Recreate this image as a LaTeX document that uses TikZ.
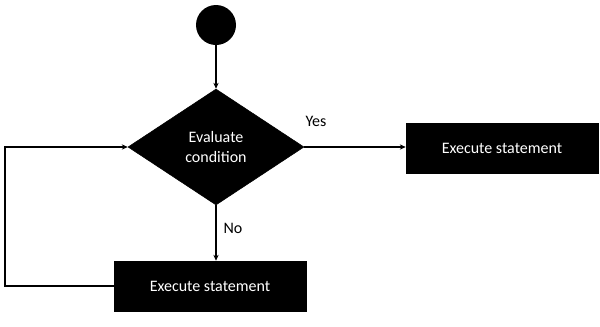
\documentclass[tikz,border=0pt]{standalone}
\usepackage{fontspec}
\setmainfont{Carlito}
\usetikzlibrary{shapes.geometric,arrows.meta}
\begin{document}
\begin{tikzpicture}[x=0.75pt,y=-0.75pt,
  conn/.style={line width=1.1pt,-{Stealth[length=4.5pt,width=4pt]}},
  plain/.style={line width=1.1pt},
  blackbox/.style={draw=black,fill=black,text=white,minimum width=144pt,minimum height=37.5pt,inner sep=0pt,font=\fontsize{12}{14}\selectfont},
  decision/.style={diamond,draw=black,fill=black,text=white,aspect=1.52,minimum width=132pt,minimum height=87pt,inner sep=0pt,align=center,font=\fontsize{12}{15}\selectfont},
  startdot/.style={circle,fill=black,minimum size=30pt,inner sep=0pt},
  lbl/.style={font=\fontsize{12}{14}\selectfont,inner sep=0pt}]
\useasboundingbox (0,0) rectangle (600,326);
\node[startdot] (s) at (216,25) {};
\node[decision] (d) at (216,147) {Evaluate\\condition};
\node[blackbox] (r) at (502,148) {Execute statement};
\node[blackbox] (b) at (210,286) {Execute statement};
\coordinate (loop) at (5,147);
\draw[conn] (s.south) -- (d.north);
\draw[conn] (d.east) -- (d.east -| r.west);
\draw[conn] (d.south) -- (d.south |- b.north);
\draw[conn] (b.west) -| (loop) -- (d.west);
\node[lbl] (yes) at (316,121) {Yes};
\node[lbl] (no) at (233,228) {No};
\end{tikzpicture}
\end{document}
